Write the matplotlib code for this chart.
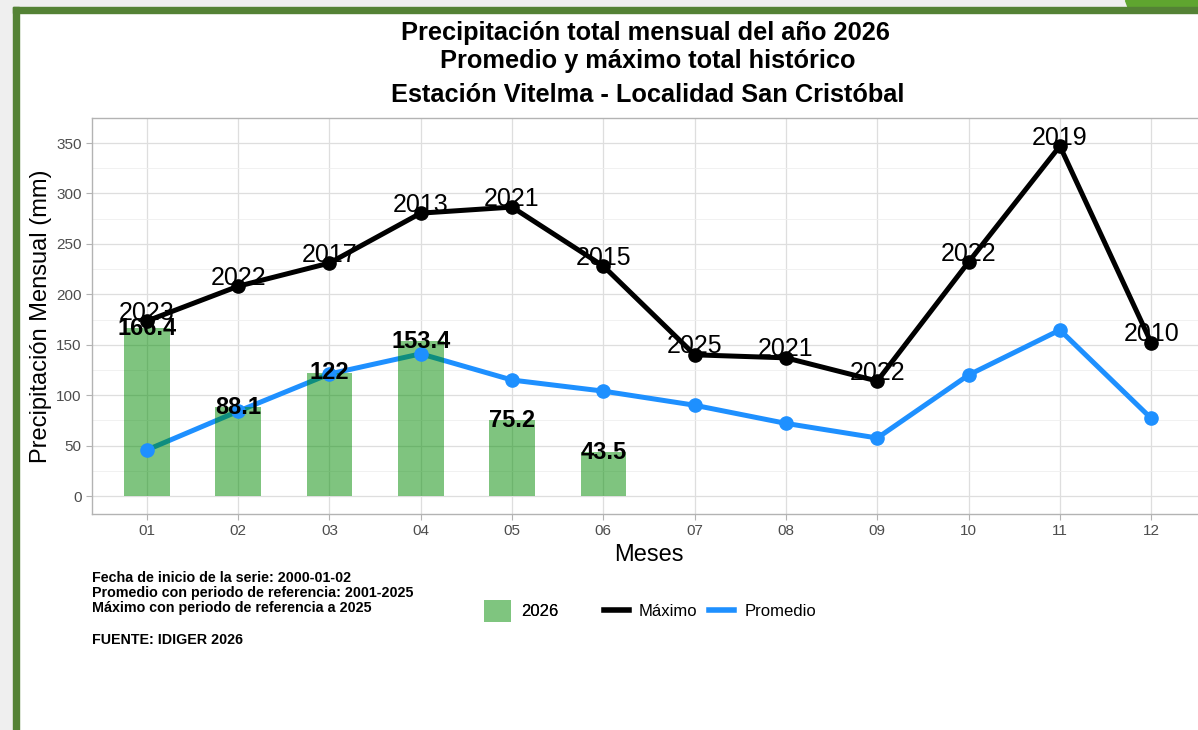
import matplotlib
matplotlib.use("Agg")
import matplotlib.pyplot as plt
from matplotlib.patches import Rectangle, Polygon, Patch
from matplotlib.lines import Line2D
from matplotlib.ticker import MultipleLocator

plt.rcParams['font.family'] = ['Liberation Sans', 'DejaVu Sans']

meses = ['01', '02', '03', '04', '05', '06', '07', '08', '09', '10', '11', '12']
maximo = [173.5, 208, 231, 280.5, 286.5, 228, 140, 137, 114, 232, 347, 152]
anio_max = ['2023', '2022', '2017', '2013', '2021', '2015', '2025', '2021', '2022', '2022', '2019', '2010']
promedio = [45.6, 84, 121, 141, 115, 104, 90, 72, 57.5, 120, 164.6, 77]
lluvia_2026 = [166.4, 88.1, 122, 153.4, 75.2, 43.5]
etiq_2026 = ['166.4', '88.1', '122', '153.4', '75.2', '43.5']

W, H = 1198, 730
fig = plt.figure(figsize=(W / 100, H / 100), dpi=100)
fig.patch.set_facecolor('white')

# marco de la captura
def px(x, y):
    return x / W, 1 - y / H

gris = '#efefef'
fig.patches.append(Rectangle((0, 0), 13 / W, 1, transform=fig.transFigure, color=gris, zorder=0))
fig.patches.append(Rectangle((0, 1 - 7 / H), 1, 7 / H, transform=fig.transFigure, color=gris, zorder=0))
fig.patches.append(Polygon([px(1125, 0), px(W, 0), px(W, 8), px(1128, 8)], closed=True,
                           transform=fig.transFigure, color='#5fa52f', zorder=0))
fig.patches.append(Rectangle((13 / W, 1 - 13 / H), 1, 6 / H, transform=fig.transFigure, color='#548235', zorder=1))
fig.patches.append(Rectangle((13 / W, 0), 6 / W, 1 - 7 / H, transform=fig.transFigure, color='#548235', zorder=1))

ax = fig.add_axes([92 / W, 1 - 514 / H, (1206 - 92) / W, (514 - 118) / H])
x = list(range(1, 13))

# lineas debajo de las barras, puntos encima
ax.plot(x, maximo, color='black', lw=3.6, zorder=2, solid_capstyle='butt')
ax.plot(x, promedio, color='#1e90ff', lw=3.6, zorder=2, solid_capstyle='butt')
ax.bar(x[:len(lluvia_2026)], lluvia_2026, width=0.5, color='#008b00', alpha=0.5, zorder=3, linewidth=0)
ax.plot(x, maximo, 'o', color='black', ms=9.5, zorder=4)
ax.plot(x, promedio, 'o', color='#1e90ff', ms=9.5, zorder=4)

for xi, v, t in zip(x, maximo, anio_max):
    ax.text(xi, v - 3.5, t, ha='center', va='bottom', fontsize=18, zorder=5)
for xi, v, t in zip(x, lluvia_2026, etiq_2026):
    ax.text(xi, v, t, ha='center', va='center', fontsize=17, fontweight='bold', zorder=5)

ax.set_xlim(0.4, 12.6)
ax.set_ylim(-17.85, 374.85)
ax.set_xticks(x)
ax.set_xticklabels(meses)
ax.yaxis.set_major_locator(MultipleLocator(50))
ax.yaxis.set_minor_locator(MultipleLocator(25))
ax.grid(which='major', color='#dedede', lw=0.9, zorder=0)
ax.grid(which='minor', axis='y', color='#efefef', lw=0.6, zorder=0)
ax.set_axisbelow(True)
for s in ax.spines.values():
    s.set_color('#b3b3b3')
    s.set_linewidth(1)
ax.tick_params(which='major', colors='#b3b3b3', labelcolor='#4d4d4d', labelsize=11, length=4, width=0.8)
ax.tick_params(which='minor', length=0)
ax.set_xlabel('Meses', fontsize=17, labelpad=4)
ax.set_ylabel('Precipitación Mensual (mm)', fontsize=17, labelpad=3)

fig.text(645 / W, 1 - 33 / H, 'Precipitación total mensual del año 2026', ha='center', va='center',
         fontsize=18.3, fontweight='bold')
fig.text(648 / W, 1 - 61 / H, 'Promedio y máximo total histórico', ha='center', va='center',
         fontsize=18.3, fontweight='bold')
fig.text(648 / W, 1 - 95 / H, 'Estación Vitelma - Localidad San Cristóbal', ha='center', va='center',
         fontsize=18.3, fontweight='bold')

caption = ['Fecha de inicio de la serie: 2000-01-02',
           'Promedio con periodo de referencia: 2001-2025',
           'Máximo con periodo de referencia a 2025']
for i, c in enumerate(caption):
    fig.text(92 / W, 1 - (578 + 15 * i) / H, c, ha='left', va='center', fontsize=10.3, fontweight='bold')
fig.text(92 / W, 1 - 640 / H, 'FUENTE: IDIGER 2026', ha='left', va='center', fontsize=10.3, fontweight='bold')

leg1 = fig.legend(handles=[Patch(facecolor='#7fc57f', label='2026')],
                  loc='center', bbox_to_anchor=(521 / W, 1 - 611 / H), frameon=False, fontsize=12,
                  handlelength=1.6, handleheight=1.6, handletextpad=0.6)
fig.add_artist(leg1)
fig.legend(handles=[Line2D([], [], color='black', lw=4, label='Máximo'),
                    Line2D([], [], color='#1e90ff', lw=4, label='Promedio')],
           loc='center', bbox_to_anchor=(710 / W, 1 - 611 / H), frameon=False, fontsize=12, ncol=2,
           handlelength=1.5, handletextpad=0.6, columnspacing=0.7)

fig.savefig('out.png', dpi=100)
